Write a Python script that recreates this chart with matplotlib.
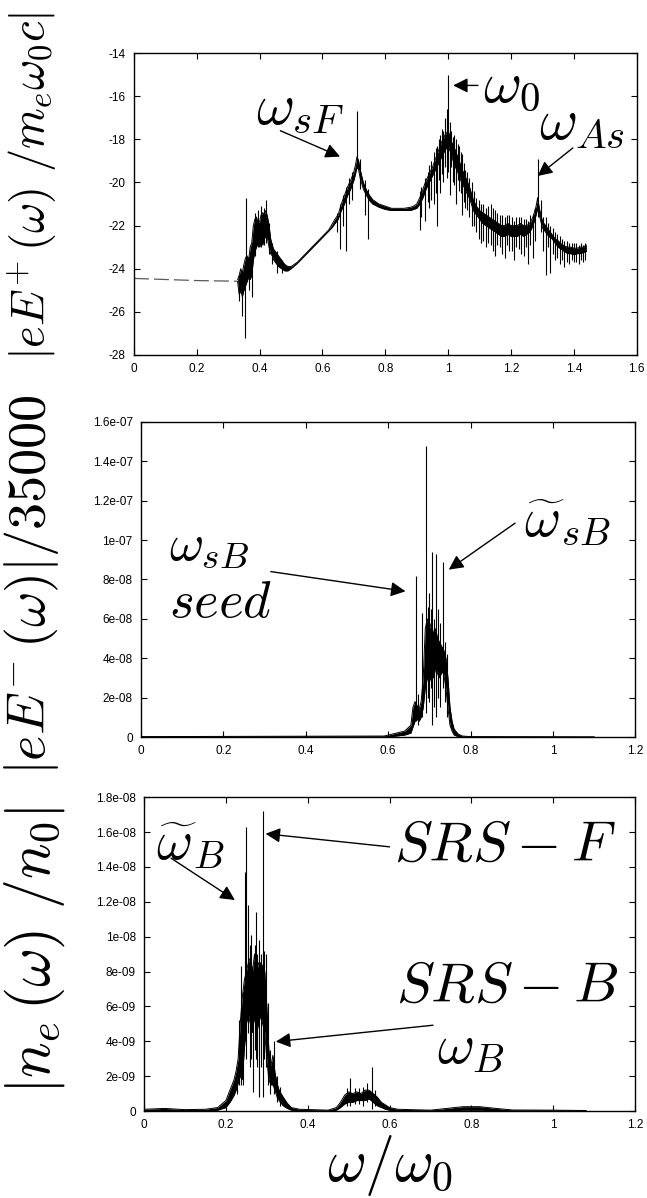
import numpy as np
import matplotlib
matplotlib.use("Agg")
import matplotlib.pyplot as plt
from matplotlib.ticker import FixedLocator, FuncFormatter

plt.rcParams['mathtext.fontset'] = 'cm'
plt.rcParams['font.family'] = ['Liberation Sans', 'DejaVu Sans']

# ---- panel 1 : |eE+(w)| (log scale values) ----
e1_flat_x = [0.0, 0.2, 0.33]
e1_flat_y = [-24.45, -24.55, -24.58]

e1_x = [0.33, 0.335, 0.34, 0.345, 0.35, 0.355, 0.36, 0.365, 0.37, 0.375, 0.38, 0.385,
        0.39, 0.395, 0.40, 0.405, 0.41, 0.415, 0.42, 0.425, 0.43, 0.435, 0.44, 0.445,
        0.45, 0.46, 0.47, 0.48, 0.49, 0.50, 0.52, 0.54, 0.56, 0.58, 0.60, 0.62, 0.63,
        0.64, 0.65, 0.66, 0.67, 0.68, 0.69, 0.70, 0.705, 0.71, 0.715, 0.72, 0.73, 0.74,
        0.75, 0.76, 0.78, 0.80, 0.82, 0.84, 0.86, 0.88, 0.89, 0.90, 0.91, 0.92, 0.93,
        0.94, 0.95, 0.96, 0.97, 0.98, 0.99, 1.00, 1.01, 1.02, 1.03, 1.04, 1.05, 1.06,
        1.07, 1.08, 1.09, 1.10, 1.11, 1.12, 1.13, 1.14, 1.15, 1.16, 1.17, 1.18, 1.19,
        1.20, 1.21, 1.22, 1.23, 1.24, 1.25, 1.26, 1.27, 1.28, 1.285, 1.29, 1.30, 1.31,
        1.32, 1.33, 1.34, 1.35, 1.36, 1.37, 1.38, 1.39, 1.40, 1.41, 1.42, 1.43, 1.44]
e1_lo = [-24.6, -25.2, -25.0, -25.3, -25.0, -24.8, -24.6, -24.4, -24.5, -24.3, -23.6, -23.2,
         -23.0, -22.8, -23.0, -22.8, -22.9, -22.6, -22.5, -22.6, -23.0, -23.3, -23.4, -23.6,
         -23.7, -23.9, -24.0, -24.1, -24.1, -24.0, -23.75, -23.45, -23.15, -22.85, -22.55, -22.25, -22.1,
         -21.9, -21.7, -21.3, -21.0, -20.6, -20.3, -19.9, -19.6, -19.3, -19.4, -19.8, -20.3, -20.6,
         -20.85, -21.0, -21.15, -21.25, -21.3, -21.3, -21.3, -21.3, -21.25, -21.2, -21.0, -20.7, -20.3,
         -20.0, -19.7, -19.4, -19.1, -18.8, -18.5, -18.3, -18.7, -19.2, -19.5, -19.9, -20.2, -20.5,
         -20.8, -21.3, -21.5, -21.7, -21.9, -22.0, -22.1, -22.2, -22.3, -22.4, -22.5, -22.5, -22.4,
         -22.5, -22.5, -22.5, -22.4, -22.5, -22.4, -22.3, -22.0, -21.5, -21.2, -21.5, -22.1, -22.3,
         -22.5, -22.6, -22.8, -23.0, -23.1, -23.2, -23.3, -23.3, -23.35, -23.3, -23.3, -23.25, -23.2]
e1_hi = [-24.5, -24.3, -24.0, -24.2, -23.8, -23.5, -23.4, -23.6, -23.0, -22.8, -22.0, -21.7,
         -21.6, -21.9, -21.8, -21.5, -21.4, -21.5, -21.3, -21.6, -22.0, -22.6, -22.9, -23.1,
         -23.2, -23.4, -23.6, -23.8, -23.9, -23.9, -23.7, -23.4, -23.1, -22.8, -22.5, -22.2, -21.95,
         -21.7, -21.5, -21.0, -20.6, -20.2, -19.9, -19.5, -19.2, -18.8, -19.0, -19.4, -20.0, -20.35,
         -20.6, -20.8, -21.0, -21.1, -21.2, -21.2, -21.2, -21.15, -21.1, -21.0, -20.7, -20.3, -19.9,
         -19.6, -19.3, -18.9, -18.5, -18.1, -17.8, -17.6, -18.1, -18.4, -18.8, -19.2, -19.6, -19.9,
         -20.3, -20.8, -21.1, -21.3, -21.4, -21.5, -21.6, -21.7, -21.8, -21.9, -22.0, -22.0, -21.9,
         -22.0, -22.0, -22.0, -21.9, -22.0, -22.0, -21.9, -21.6, -21.1, -20.7, -21.2, -21.8, -22.0,
         -22.2, -22.4, -22.6, -22.7, -22.85, -22.95, -23.0, -23.0, -23.05, -23.05, -23.0, -23.0, -22.9]

e1_spk_x = [0.335, 0.345, 0.352, 0.358, 0.365, 0.375, 0.385, 0.395, 0.405, 0.415, 0.42, 0.43,
            0.44, 0.455, 0.47, 0.645, 0.655, 0.665, 0.675, 0.685, 0.695, 0.71, 0.72, 0.735,
            0.745, 0.91, 0.925, 0.94, 0.955, 0.965, 0.975, 0.985, 0.995, 1.0, 1.005, 1.015,
            1.025, 1.035, 1.045, 1.06, 1.075, 1.09, 1.105, 1.12, 1.135, 1.15, 1.165, 1.18,
            1.195, 1.21, 1.225, 1.24, 1.255, 1.27, 1.285, 1.295, 1.31, 1.325, 1.34, 1.355,
            1.37, 1.385, 1.40, 1.415, 1.43,
            0.915, 0.935, 0.945, 0.96, 0.97, 0.98, 0.99, 1.01, 1.02, 1.03, 1.04, 1.05, 1.055,
            1.067, 1.082, 1.097, 1.112, 1.127, 1.142, 1.157, 1.172, 1.187, 1.202, 1.217,
            1.232, 1.247, 1.262, 1.277, 1.303, 1.318, 1.333, 1.348, 1.363, 1.378, 1.393,
            1.408, 1.423, 1.437]
e1_spk_lo = [-25.5, -26.2, -27.2, -24.5, -25.0, -25.3, -23.4, -23.0, -23.0, -22.9, -22.8, -23.3,
             -23.8, -24.2, -24.2, -22.3, -23.1, -22.0, -23.2, -21.0, -20.8, -19.0, -20.3, -21.5,
             -22.6, -22.2, -21.8, -21.2, -21.0, -22.0, -20.5, -20.0, -19.8, -19.5, -20.6, -20.0,
             -21.0, -20.4, -21.5, -21.3, -22.0, -22.3, -22.8, -23.0, -22.9, -23.4, -23.0, -23.5,
             -23.2, -23.6, -23.1, -23.4, -23.8, -23.5, -21.6, -22.3, -24.3, -24.2, -23.6, -23.8,
             -23.9, -23.8, -23.7, -23.8, -23.7,
             -21.6, -20.9, -20.8, -20.5, -19.9, -19.6, -19.3, -19.3, -20.1, -19.9, -20.5, -20.9, -21.2,
             -21.6, -22.0, -22.6, -22.7, -22.8, -23.2, -22.9, -23.3, -22.9, -23.2, -23.0,
             -23.3, -23.0, -22.9, -22.7, -23.2, -23.0, -23.3, -23.5, -23.6, -23.7, -23.6,
             -23.7, -23.6, -23.6]
e1_spk_hi = [-24.3, -24.2, -24.6, -20.7, -23.4, -22.8, -21.4, -21.3, -21.1, -21.2, -20.8, -21.9,
             -22.8, -23.2, -23.6, -21.4, -21.0, -20.6, -20.2, -19.8, -19.5, -16.7, -18.9, -19.9,
             -20.3, -20.4, -19.8, -19.2, -18.6, -18.3, -17.8, -17.6, -16.6, -15.0, -17.2, -17.9,
             -18.0, -18.3, -18.7, -19.5, -20.0, -20.7, -21.0, -21.2, -21.0, -21.3, -21.5, -21.6,
             -21.5, -21.8, -21.6, -21.7, -21.8, -21.5, -18.9, -20.8, -21.6, -22.0, -22.3, -22.5,
             -22.7, -22.8, -22.8, -22.9, -22.9,
             -20.2, -19.5, -19.0, -18.4, -18.0, -17.5, -17.0, -17.6, -17.8, -18.2, -18.6, -19.1, -19.4,
             -19.8, -20.4, -20.8, -21.0, -21.1, -21.2, -21.4, -21.5, -21.5, -21.6, -21.6,
             -21.6, -21.7, -21.5, -21.2, -21.6, -21.9, -22.1, -22.4, -22.6, -22.7, -22.8,
             -22.8, -22.8, -22.8]

# ---- panel 2 : |eE-(w)|/35000, values in units of 1e-8 ----
e2_x = [0.0, 0.59, 0.60, 0.62, 0.64, 0.655, 0.66, 0.665, 0.67, 0.675, 0.68, 0.685, 0.69,
        0.695, 0.70, 0.705, 0.71, 0.715, 0.72, 0.725, 0.73, 0.735, 0.74, 0.745, 0.75,
        0.755, 0.76, 0.77, 0.78, 0.80, 1.1]
e2_lo = [0, 0, 0, 0.05, 0.1, 0.2, 0.5, 0.8, 0.9, 0.8, 1.0, 1.5, 2.5,
         3.0, 2.8, 3.2, 3.0, 3.5, 3.2, 3.0, 3.3, 3.2, 2.5, 1.5, 0.6,
         0.3, 0.1, 0.02, 0, 0, 0]
e2_hi = [0.02, 0.05, 0.1, 0.2, 0.3, 0.6, 1.5, 1.8, 1.6, 1.4, 1.8, 3.0, 5.5,
         6.0, 5.5, 5.8, 5.2, 5.5, 5.0, 4.8, 4.6, 4.4, 4.0, 3.0, 1.5,
         0.8, 0.4, 0.15, 0.05, 0.02, 0]
e2_spk_x = [0.667, 0.672, 0.683, 0.692, 0.696, 0.699, 0.703, 0.707, 0.711, 0.717, 0.721,
            0.726, 0.732, 0.737, 0.742]
e2_spk_lo = [0.8, 0.6, 1.0, 1.2, 2.0, 1.8, 2.5, 0.6, 1.5, 1.0, 2.0, 1.5, 2.5, 1.8, 1.0]
e2_spk_hi = [8.2, 2.2, 6.3, 14.8, 6.6, 7.3, 6.5, 9.4, 6.0, 9.3, 6.5, 5.8, 8.9, 4.8, 4.2]

# ---- panel 3 : |ne(w)/n0|, values in units of 1e-9 ----
n_x = [0.0, 0.05, 0.1, 0.15, 0.18, 0.2, 0.21, 0.22, 0.225, 0.23, 0.235, 0.24, 0.245,
       0.25, 0.255, 0.26, 0.265, 0.27, 0.275, 0.28, 0.285, 0.29, 0.295, 0.30, 0.305,
       0.31, 0.315, 0.32, 0.325, 0.33, 0.34, 0.35, 0.36, 0.38, 0.45, 0.47, 0.48, 0.49,
       0.50, 0.51, 0.52, 0.53, 0.54, 0.55, 0.56, 0.57, 0.58, 0.59, 0.60, 0.62, 0.70,
       0.74, 0.78, 0.82, 0.86, 0.90, 1.0, 1.08]
n_lo = [0, 0, 0, 0, 0.05, 0.2, 0.5, 0.9, 1.2, 1.6, 2.0, 1.8, 3.5,
        5.0, 5.5, 5.0, 4.5, 5.5, 4.5, 5.0, 5.5, 5.0, 4.5, 3.0, 1.8,
        1.5, 1.5, 1.2, 0.8, 0.6, 0.3, 0.15, 0.05, 0, 0, 0.05, 0.2, 0.4,
        0.5, 0.5, 0.6, 0.6, 0.6, 0.7, 0.5, 0.3, 0.2, 0.1, 0.05, 0, 0,
        0.02, 0.05, 0.05, 0.02, 0, 0, 0]
n_hi = [0.1, 0.15, 0.08, 0.1, 0.2, 0.6, 1.2, 1.8, 2.3, 3.0, 5.0, 6.5, 7.5,
        8.0, 8.5, 8.8, 8.0, 9.0, 8.0, 8.5, 8.5, 8.3, 8.0, 6.0, 3.5,
        2.6, 3.2, 2.2, 1.6, 1.2, 0.8, 0.45, 0.2, 0.1, 0.05, 0.2, 0.5, 0.9,
        1.1, 1.0, 1.1, 1.0, 1.2, 1.2, 1.0, 0.8, 0.5, 0.35, 0.2, 0.1, 0.05,
        0.15, 0.25, 0.25, 0.15, 0.06, 0.05, 0.03]
n_spk_x = [0.227, 0.233, 0.237, 0.242, 0.247, 0.250, 0.254, 0.258, 0.262, 0.266, 0.270,
           0.273, 0.277, 0.282, 0.286, 0.290, 0.294, 0.297, 0.302, 0.308, 0.318, 0.325,
           0.333, 0.495, 0.504, 0.515, 0.525, 0.535, 0.545, 0.558, 0.565]
n_spk_lo = [1.0, 1.5, 1.5, 1.5, 4.0, 3.0, 4.5, 2.5, 3.0, 1.1, 3.5,
            3.0, 2.5, 0.8, 2.5, 0.8, 3.0, 2.5, 1.5, 1.0, 1.0, 0.5,
            0.3, 0.3, 0.3, 0.4, 0.4, 0.3, 0.5, 0.1, 0.3]
n_spk_hi = [2.5, 5.2, 8.3, 6.8, 13.7, 16.3, 11.8, 9.5, 10.1, 8.0, 9.5,
            11.4, 9.0, 9.8, 9.0, 17.2, 9.2, 9.0, 6.2, 3.5, 4.0, 2.0,
            1.4, 1.3, 1.9, 1.3, 1.3, 1.4, 1.6, 2.5, 1.2]


def spectrum(ax, x, lo, hi, sx, slo, shi, scale=1.0):
    lo = np.array(lo) * scale
    hi = np.array(hi) * scale
    ax.fill_between(x, lo, hi, color='k', lw=0)
    ax.plot(x, lo, color='k', lw=0.7)
    ax.plot(x, hi, color='k', lw=0.7)
    ax.vlines(sx, np.array(slo) * scale, np.array(shi) * scale, color='k', lw=0.8)


def sci(v, p):
    if abs(v) < 1e-15:
        return '0'
    return ('%.1e' % v).replace('.0e', 'e')


def style(ax):
    ax.tick_params(direction='in', top=True, right=True, length=4, width=0.8,
                   labelsize=8.5, pad=6)
    for s in ax.spines.values():
        s.set_linewidth(1.0)


arrow = dict(arrowstyle='-|>', color='k', lw=1.0, mutation_scale=22, shrinkA=0, shrinkB=0)

fig = plt.figure(figsize=(6.47, 11.98), dpi=100)

# panel 1
ax1 = fig.add_axes([0.207, 0.7037, 0.777, 0.252])
ax1.plot(e1_flat_x, e1_flat_y, color='0.35', lw=0.9, dashes=(12, 4))
spectrum(ax1, e1_x, e1_lo, e1_hi, e1_spk_x, e1_spk_lo, e1_spk_hi)
ax1.set_xlim(0, 1.6)
ax1.set_ylim(-28, -14)
ax1.xaxis.set_major_locator(FixedLocator([0, 0.2, 0.4, 0.6, 0.8, 1, 1.2, 1.4, 1.6]))
ax1.yaxis.set_major_locator(FixedLocator(list(range(-28, -13, 2))))
ax1.xaxis.set_major_formatter(FuncFormatter(lambda v, p: '%g' % v))
ax1.yaxis.set_major_formatter(FuncFormatter(lambda v, p: '%g' % v))
style(ax1)
ax1.text(0.39, -16.6, r'$\omega_{sF}$', fontsize=42, va='center')
ax1.annotate('', xy=(0.656, -18.8), xytext=(0.466, -17.6), arrowprops=arrow)
ax1.text(1.11, -15.6, r'$\omega_0$', fontsize=42, va='center')
ax1.annotate('', xy=(1.016, -15.5), xytext=(1.095, -15.5), arrowprops=arrow)
ax1.text(1.29, -17.3, r'$\omega_{As}$', fontsize=42, va='center')
ax1.annotate('', xy=(1.285, -19.7), xytext=(1.397, -18.4), arrowprops=arrow)

# panel 2
ax2 = fig.add_axes([0.218, 0.3848, 0.764, 0.263])
spectrum(ax2, e2_x, e2_lo, e2_hi, e2_spk_x, e2_spk_lo, e2_spk_hi, scale=1e-8)
ax2.set_xlim(0, 1.2)
ax2.set_ylim(0, 1.6e-7)
ax2.xaxis.set_major_locator(FixedLocator([0, 0.2, 0.4, 0.6, 0.8, 1, 1.2]))
ax2.yaxis.set_major_locator(FixedLocator([i * 2e-8 for i in range(9)]))
ax2.xaxis.set_major_formatter(FuncFormatter(lambda v, p: '%g' % v))
ax2.yaxis.set_major_formatter(FuncFormatter(sci))
style(ax2)
ax2.text(0.068, 9.7e-8, r'$\omega_{sB}$', fontsize=38, va='center')
ax2.text(0.068, 6.8e-8, r'$seed$', fontsize=38, va='center')
ax2.annotate('', xy=(0.642, 7.4e-8), xytext=(0.315, 8.4e-8), arrowprops=arrow)
ax2.text(0.93, 10.9e-8, r'$\widetilde{\omega}_{sB}$', fontsize=40, va='center')
ax2.annotate('', xy=(0.747, 8.5e-8), xytext=(0.908, 10.86e-8), arrowprops=arrow)

# panel 3
ax3 = fig.add_axes([0.2226, 0.0726, 0.759, 0.262])
spectrum(ax3, n_x, n_lo, n_hi, n_spk_x, n_spk_lo, n_spk_hi, scale=1e-9)
ax3.set_xlim(0, 1.2)
ax3.set_ylim(0, 1.8e-8)
ax3.xaxis.set_major_locator(FixedLocator([0, 0.2, 0.4, 0.6, 0.8, 1, 1.2]))
ax3.yaxis.set_major_locator(FixedLocator([i * 2e-9 for i in range(10)]))
ax3.xaxis.set_major_formatter(FuncFormatter(lambda v, p: '%g' % v))
ax3.yaxis.set_major_formatter(FuncFormatter(sci))
style(ax3)
ax3.text(0.03, 15.2e-9, r'$\widetilde{\omega}_B$', fontsize=40, va='center')
ax3.annotate('', xy=(0.222, 12.1e-9), xytext=(0.066, 14.5e-9), arrowprops=arrow)
ax3.text(0.61, 15.2e-9, r'$SRS-F$', fontsize=41, va='center')
ax3.annotate('', xy=(0.297, 15.9e-9), xytext=(0.60, 15.15e-9), arrowprops=arrow)
ax3.text(0.615, 7.14e-9, r'$SRS-B$', fontsize=41, va='center')
ax3.text(0.716, 3.6e-9, r'$\omega_B$', fontsize=41, va='center')
ax3.annotate('', xy=(0.322, 3.98e-9), xytext=(0.706, 4.92e-9), arrowprops=arrow)

# axis labels
fig.text(0.051, 0.845, r'$|eE^{+}\,(\omega)\ /m_e\omega_0c|$', fontsize=33.5,
         rotation=90, ha='center', va='center')
fig.text(0.048, 0.512, r'$|eE^{-}\,(\omega)|/35000$', fontsize=39,
         rotation=90, ha='center', va='center')
fig.text(0.054, 0.207, r'$|n_e\,(\omega)\ /n_0|$', fontsize=43,
         rotation=90, ha='center', va='center')
fig.text(0.603, 0.027, r'$\omega/\omega_0$', fontsize=43, ha='center', va='center')

fig.savefig('out.png', dpi=100)
